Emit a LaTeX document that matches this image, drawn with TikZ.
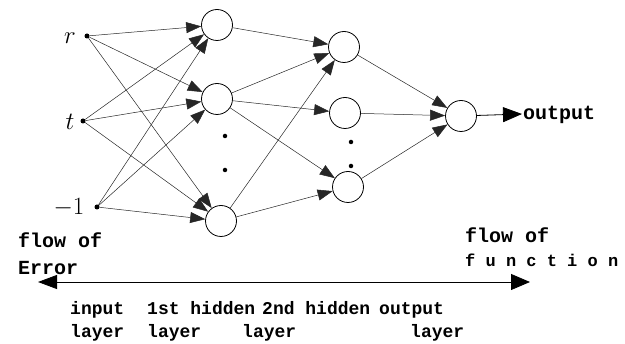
\documentclass[tikz,border=0pt]{standalone}
\usepackage{fontspec}
\setmonofont{Liberation Mono}
\usetikzlibrary{arrows.meta}
\begin{document}
\begin{tikzpicture}[x=1pt,y=-1pt,
  neuron/.style={circle,draw,line width=0.8pt,minimum size=31pt,inner sep=0pt},
  indot/.style={circle,fill,minimum size=5pt,inner sep=0pt},
  vdot/.style={circle,fill,minimum size=4.5pt,inner sep=0pt},
  link/.style={line width=0.5pt,black!85,-{Triangle[length=15pt,width=11pt]}},
  bigarrow/.style={line width=0.8pt,-{Triangle[length=19pt,width=15pt]}},
  mathlab/.style={font=\fontsize{24}{24}\selectfont,inner sep=0pt},
  lab/.style={font=\fontsize{18}{18}\selectfont\ttfamily\bfseries,inner sep=0pt,anchor=base west},
  biglab/.style={font=\fontsize{20}{20}\selectfont\ttfamily\bfseries,inner sep=0pt,anchor=base west}]
\useasboundingbox (0,0) rectangle (625,344);
% input layer
\node[indot] (ir) at (87,36) {};
\node[indot] (it) at (83,121) {};
\node[indot] (ib) at (97,207) {};
\node[mathlab] (lr) at (70,38) {$r$};
\node[mathlab] (lt) at (70,122) {$t$};
\node[mathlab] (lb) at (69,208) {$-1$};
% first hidden layer
\node[neuron] (h1a) at (217,25) {};
\node[neuron] (h1b) at (217,99) {};
\node[neuron] (h1c) at (221,221) {};
\node[vdot] (d1) at (225,136) {};
\node[vdot] (d2) at (225,170) {};
% second hidden layer
\node[neuron] (h2a) at (344,47) {};
\node[neuron] (h2b) at (345,113) {};
\node[neuron] (h2c) at (348,187) {};
\node[vdot] (d3) at (351,142) {};
\node[vdot] (d4) at (351,166) {};
% output neuron
\node[neuron] (o) at (461,116) {};
\coordinate (oend) at (522,114);
\node[biglab] (otxt) at (523,120) {output};
% connections input -> h1
\foreach \i in {ir,it,ib}{
  \foreach \j in {h1a,h1b,h1c}{
    \draw[link] (\i) -- (\j);
  }
}
% h1 -> h2
\draw[link] (h1a) -- (h2a);
\draw[link] (h1b) -- (h2a);
\draw[link] (h1b) -- (h2b);
\draw[link] (h1b) -- (h2c);
\draw[link] (h1c) -- (h2a);
\draw[link] (h1c) -- (h2c);
% h2 -> output
\draw[link] (h2a) -- (o);
\draw[link] (h2b) -- (o);
\draw[link] (h2c) -- (o);
\draw[bigarrow] (o) -- (oend);
% flow arrow
\coordinate (fl) at (38,282);
\coordinate (fr) at (530,282);
\draw[line width=0.8pt,{Triangle[length=19pt,width=14pt]}-{Triangle[length=19pt,width=16pt]}] (fl) -- (fr);
\node[biglab] (fe1) at (18,248) {flow of};
\node[biglab] (fe2) at (18,275) {Error};
\node[biglab] (ff1) at (465,243) {flow of};
\node[lab,font=\fontsize{17}{17}\selectfont\ttfamily\bfseries] (ff2) at (465,267) {f u n c t i o n};
% layer labels
\node[lab] (l1) at (70,315) {input};
\node[lab] (l2) at (70,338) {layer};
\node[lab] (l3) at (147,315) {1st hidden};
\node[lab] (l4) at (147,338) {layer};
\node[lab] (l5) at (262,315) {2nd hidden};
\node[lab] (l6) at (242,338) {layer};
\node[lab] (l7) at (379,315) {output};
\node[lab] (l8) at (410,338) {layer};
\end{tikzpicture}
\end{document}
